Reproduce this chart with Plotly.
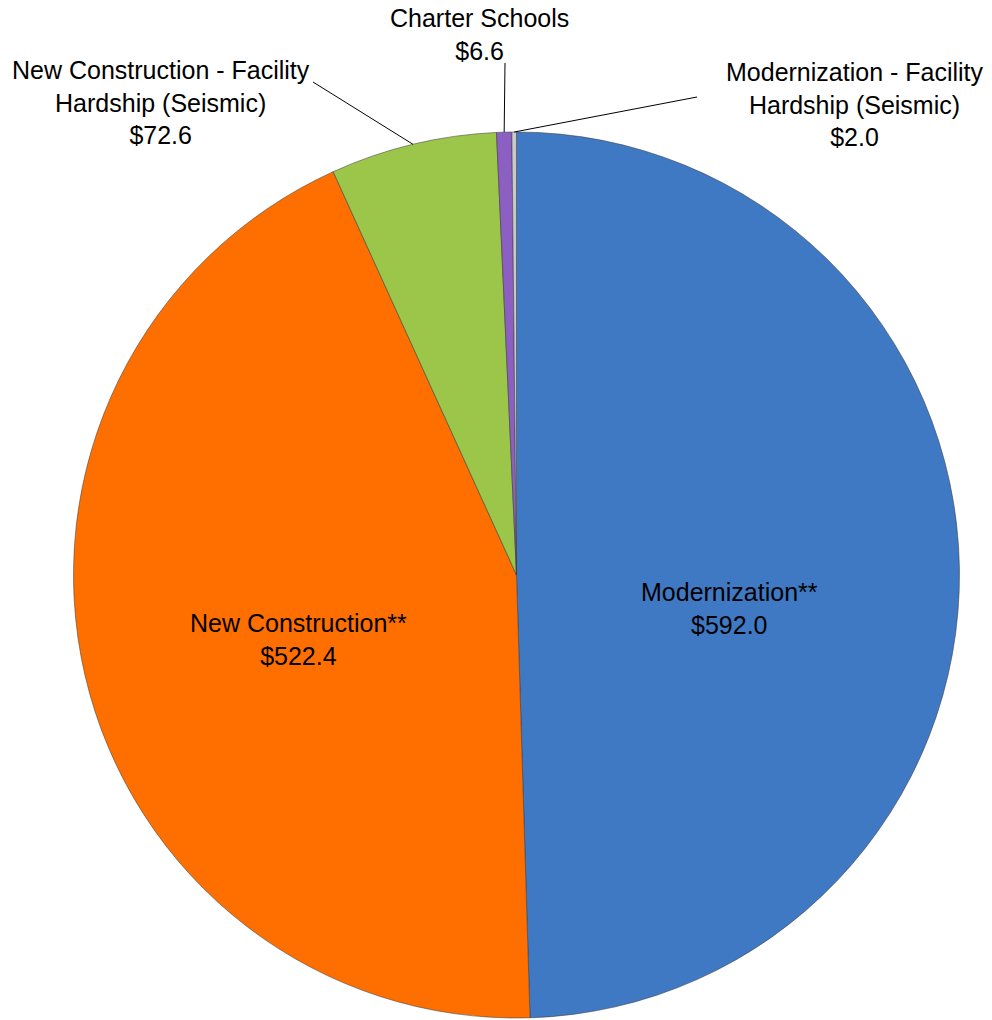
import numpy as np
import plotly.graph_objects as go

# ---- data ----
categories = [
    "Modernization**",
    "New Construction**",
    "New Construction - Facility<br>Hardship (Seismic)",
    "Charter Schools",
    "Modernization - Facility<br>Hardship (Seismic)",
]
values = [592.0, 522.4, 72.6, 6.6, 2.0]
value_labels = ["$592.0", "$522.4", "$72.6", "$6.6", "$2.0"]
colors = ["#3f79c4", "#ff6f00", "#9cc64a", "#8c5fc2", "#c9c9cc"]

W, H = 992, 1020
cx, cy, R = 516.5, 575.0, 443.0   # pie centre / radius in px

fig = go.Figure(go.Pie(
    labels=[c.replace("<br>", " ") for c in categories],
    values=values,
    sort=False,
    direction="clockwise",
    rotation=0,
    textinfo="none",
    hoverinfo="label+value",
    marker=dict(colors=colors, line=dict(color="rgba(60,60,60,0.55)", width=1)),
    domain=dict(x=[(cx - R) / W, (cx + R) / W], y=[(H - (cy + R)) / H, (H - (cy - R)) / H]),
    showlegend=False,
))

# label text positions (px, block centres)
label_pos = [(729, 608), (298, 639), (161, 103), (479, 35), (855, 105)]
# leader line start points (px) for the outside labels
leader_start = {2: (313, 82), 3: (505, 63), 4: (697, 97)}

vals = np.array(values)
cum = np.cumsum(vals) - vals / 2
mid_ang = cum / vals.sum() * 2 * np.pi  # clockwise from 12 o'clock

font = dict(family="Liberation Sans, Arial, sans-serif", size=25, color="#000000")
for i, (cat, vl) in enumerate(zip(categories, value_labels)):
    px, py = label_pos[i]
    fig.add_annotation(
        x=px / W, y=1 - py / H, xref="paper", yref="paper",
        text=f"{cat}<br>{vl}", showarrow=False, font=font,
        xanchor="center", yanchor="middle", align="center",
    )
    if i in leader_start:
        ex = cx + R * np.sin(mid_ang[i])
        ey = cy - R * np.cos(mid_ang[i])
        sx, sy = leader_start[i]
        fig.add_shape(type="line", xref="paper", yref="paper",
                      x0=sx / W, y0=1 - sy / H, x1=ex / W, y1=1 - ey / H,
                      line=dict(color="#000000", width=1))

fig.update_layout(
    width=W, height=H,
    margin=dict(l=0, r=0, t=0, b=0),
    paper_bgcolor="#ffffff",
    plot_bgcolor="#ffffff",
)
fig.write_html(
    "out.html",
    config={"displayModeBar": False},
    post_script="document.body.style.margin='0';document.body.style.overflow='hidden';",
)
